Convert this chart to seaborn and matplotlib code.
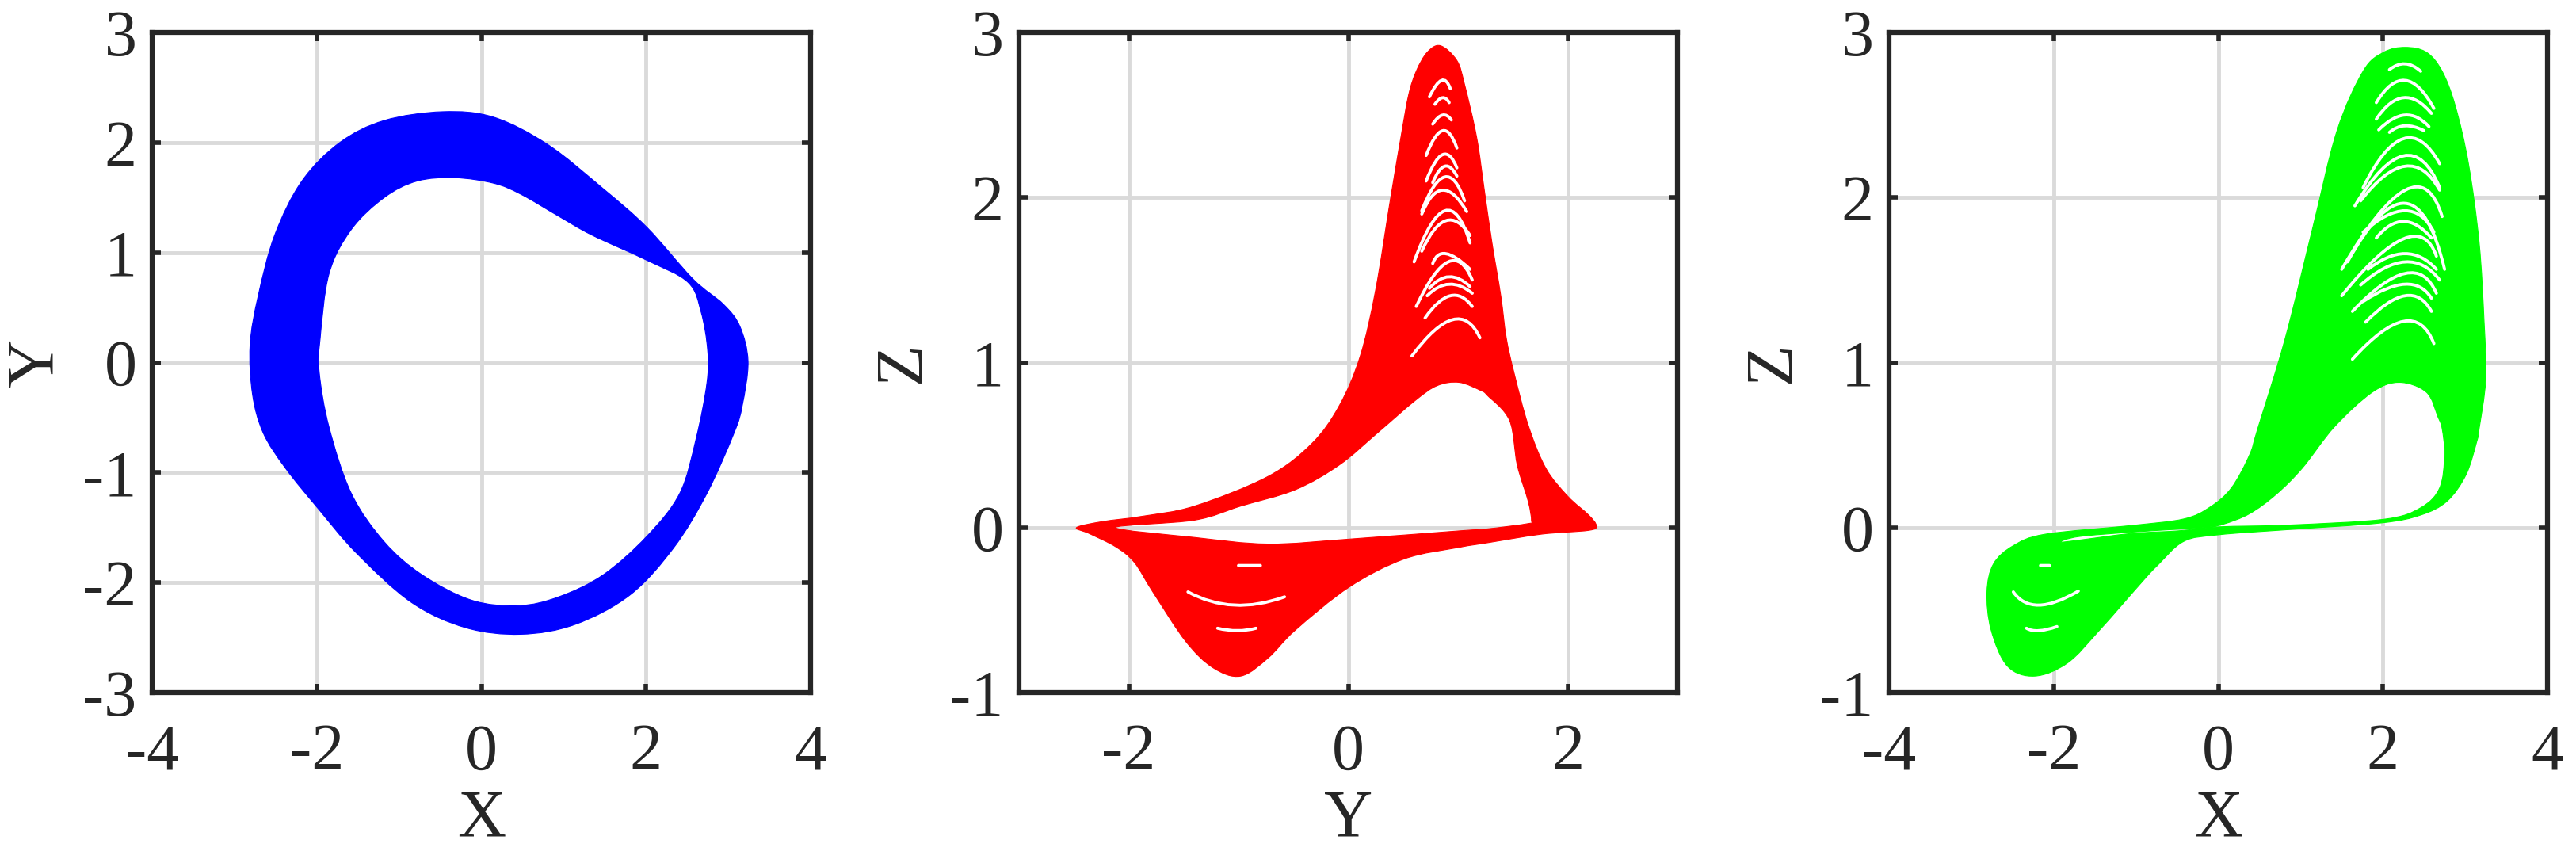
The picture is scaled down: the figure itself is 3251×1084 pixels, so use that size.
import numpy as np
import matplotlib
matplotlib.use("Agg")
import matplotlib.pyplot as plt
from matplotlib.path import Path
from matplotlib.patches import PathPatch
import seaborn as sns

# ---- panel 1 : X-Y band (outer edge / inner edge) ----
xy_outer_x = [-0.47, 0.15, 0.81, 1.48, 2.01, 2.57, 2.94, 3.14, 3.24, 3.17, 3.07, 2.74, 2.34, 1.81, 1.14,
              0.48, -0.19, -0.85, -1.52, -1.98, -2.38, -2.65, -2.78, -2.81, -2.71, -2.51, -2.18, -1.72, -1.18]
xy_outer_y = [2.28, 2.23, 1.98, 1.58, 1.23, 0.76, 0.53, 0.33, 0.01, -0.39, -0.64, -1.19, -1.68, -2.11, -2.38,
              -2.47, -2.41, -2.18, -1.73, -1.33, -0.96, -0.64, -0.29, 0.16, 0.61, 1.16, 1.65, 2.0, 2.2]
xy_inner_x = [-0.32, 0.15, 0.48, 0.94, 1.34, 2.01, 2.51, 2.67, 2.75, 2.74, 2.61, 2.41, 2.01, 1.48, 0.94,
              0.45, -0.12, -0.72, -1.18, -1.58, -1.85, -1.97, -1.96, -1.85, -1.58, -1.18, -0.78]
xy_inner_y = [1.68, 1.63, 1.53, 1.33, 1.16, 0.93, 0.73, 0.46, 0.11, -0.19, -0.69, -1.19, -1.58, -1.93, -2.13,
              -2.21, -2.16, -1.93, -1.63, -1.19, -0.59, -0.09, 0.21, 0.81, 1.21, 1.5, 1.65]

# ---- panel 2 : Y-Z ----
yz_outer_y = [-2.475, -2.24, -1.88, -1.40, -0.73, -0.33, -0.08, 0.11, 0.25, 0.38, 0.48, 0.55, 0.62, 0.72,
              0.84, 0.99, 1.06, 1.17, 1.24, 1.31, 1.39, 1.44, 1.51, 1.64, 1.80, 2.0, 2.19, 2.26, 2.19, 1.76,
              1.27, 1.01, 0.51, 0.01, -0.48, -0.73, -0.98, -1.23, -1.48, -1.78, -1.95, -2.12, -2.36]
yz_outer_z = [0.0, 0.036, 0.068, 0.13, 0.31, 0.51, 0.74, 1.04, 1.44, 1.97, 2.365, 2.62, 2.765, 2.88,
              2.92, 2.83, 2.685, 2.365, 2.045, 1.725, 1.405, 1.15, 0.94, 0.62, 0.36, 0.19, 0.076, 0.012,
              -0.017, -0.04, -0.092, -0.12, -0.19, -0.36, -0.62, -0.79, -0.9, -0.85, -0.69, -0.39, -0.21,
              -0.116, -0.036]
yz_hole_y = [-2.12, -1.40, -0.98, -0.48, -0.08, 0.26, 0.61, 0.81, 1.01, 1.21, 1.27, 1.47, 1.54, 1.64,
             1.67, 1.64, 1.27, 1.01, 0.01, -0.73, -1.40]
yz_hole_z = [0.0, 0.045, 0.13, 0.23, 0.38, 0.57, 0.77, 0.86, 0.88, 0.83, 0.80, 0.65, 0.38, 0.16,
             0.043, 0.024, -0.008, -0.02, -0.07, -0.1, -0.06]
# white gaps: (left end, apex, right end)
yz_gap_y = [[0.74, 0.85, 0.93], [0.79, 0.86, 0.92], [0.77, 0.86, 0.94], [0.71, 0.86, 0.99],
            [0.71, 0.86, 0.99], [0.77, 0.88, 0.99], [0.67, 0.88, 1.06], [0.67, 0.86, 1.08],
            [0.60, 0.88, 1.11], [0.67, 0.89, 1.11], [0.77, 0.89, 1.11], [0.62, 0.91, 1.13],
            [0.74, 0.92, 1.11], [0.72, 0.92, 1.13], [0.70, 0.93, 1.13], [0.58, 0.95, 1.20],
            [-1.46, -1.04, -0.58], [-1.19, -1.01, -0.84], [-1.0, -0.9, -0.8]]
yz_gap_z = [[2.61, 2.71, 2.66], [2.565, 2.605, 2.575], [2.445, 2.50, 2.47], [2.255, 2.405, 2.30],
            [2.10, 2.26, 2.18], [2.09, 2.19, 2.13], [1.92, 2.125, 1.98], [1.90, 2.045, 1.915],
            [1.61, 1.92, 1.725], [1.675, 1.86, 1.77], [1.60, 1.66, 1.565], [1.34, 1.61, 1.50],
            [1.45, 1.52, 1.46], [1.405, 1.475, 1.42], [1.27, 1.405, 1.34], [1.04, 1.26, 1.15],
            [-0.39, -0.47, -0.42], [-0.61, -0.625, -0.61], [-0.23, -0.23, -0.23]]

# ---- panel 3 : X-Z ----
xz_outer_x = [2.27, 2.53, 2.72, 2.88, 3.04, 3.17, 3.23, 3.25, 3.17, 3.14, 3.01, 2.78, 2.46, 1.98, 0.86,
              0.0, -0.42, -0.74, -0.91, -1.44, -1.83, -2.23, -2.56, -2.76, -2.81, -2.73, -2.49, -2.1,
              -1.06, -0.42, -0.10, 0.16, 0.38, 0.48, 0.81, 1.14, 1.44, 1.76, 2.01]
xz_outer_z = [2.91, 2.88, 2.765, 2.555, 2.205, 1.725, 1.245, 0.9, 0.6, 0.52, 0.32, 0.16, 0.076, 0.028,
              -0.012, -0.044, -0.084, -0.23, -0.32, -0.62, -0.82, -0.9, -0.84, -0.62, -0.39, -0.22,
              -0.11, -0.04, 0.012, 0.052, 0.124, 0.24, 0.44, 0.6, 1.14, 1.8, 2.4, 2.765, 2.88]
xz_hole_x = [-1.92, -1.70, -1.06, -0.49, -0.17, 0.06, 0.38, 0.70, 1.02, 1.41, 1.87, 2.2, 2.53, 2.67,
             2.72, 2.75, 2.69, 2.46, 2.01, 0.86, 0.0, -0.49, -1.06, -1.70]
xz_hole_z = [-0.088, -0.055, -0.028, -0.01, 0.0, 0.02, 0.084, 0.2, 0.36, 0.61, 0.82, 0.88, 0.82, 0.67,
             0.6, 0.44, 0.24, 0.12, 0.05, 0.015, 0.004, -0.02, -0.036, -0.077]
xz_gap_x = [[2.08, 2.27, 2.46], [1.92, 2.27, 2.62], [1.92, 2.25, 2.59], [1.95, 2.27, 2.56],
            [2.08, 2.27, 2.50], [1.76, 2.25, 2.69], [1.66, 2.25, 2.69], [1.73, 2.27, 2.69],
            [1.50, 2.27, 2.72], [1.57, 2.27, 2.75], [1.76, 2.27, 2.62], [1.92, 2.25, 2.59],
            [1.50, 2.25, 2.65], [1.82, 2.27, 2.65], [1.73, 2.27, 2.69], [1.63, 2.27, 2.65],
            [1.76, 2.27, 2.59], [1.79, 2.27, 2.59], [1.63, 2.25, 2.62],
            [-2.49, -2.18, -1.70], [-2.33, -2.18, -1.96], [-2.16, -2.10, -2.05]]
xz_gap_z = [[2.775, 2.81, 2.765], [2.575, 2.71, 2.54], [2.475, 2.605, 2.51], [2.41, 2.50, 2.43],
            [2.395, 2.435, 2.405], [2.06, 2.357, 2.205], [1.95, 2.253, 2.06], [1.98, 2.19, 2.045],
            [1.565, 2.045, 1.885], [1.61, 1.965, 1.565], [1.79, 1.92, 1.79], [1.755, 1.855, 1.755],
            [1.405, 1.75, 1.645], [1.565, 1.66, 1.565], [1.47, 1.61, 1.50], [1.31, 1.54, 1.42],
            [1.37, 1.475, 1.39], [1.245, 1.405, 1.31], [1.02, 1.25, 1.115],
            [-0.39, -0.47, -0.385], [-0.61, -0.625, -0.60], [-0.23, -0.23, -0.23]]

sns.set_theme(style="ticks")
plt.rcParams['font.family'] = ['Liberation Serif', 'DejaVu Serif']
plt.rcParams['axes.unicode_minus'] = False

INK = '#262626'


def signed_area(p):
    return 0.5 * np.sum(p[:, 0] * np.roll(p[:, 1], -1) - np.roll(p[:, 0], -1) * p[:, 1])


def smooth_loop(p):
    """closed cubic bezier path through the read points (catmull-rom tangents)"""
    n = len(p)
    verts = [p[0]]
    codes = [Path.MOVETO]
    for i in range(n):
        p0, p1, p2, p3 = p[i - 1], p[i], p[(i + 1) % n], p[(i + 2) % n]
        verts += [p1 + (p2 - p0) / 6.0, p2 - (p3 - p1) / 6.0, p2]
        codes += [Path.CURVE4] * 3
    verts.append(p[0])
    codes.append(Path.CLOSEPOLY)
    return verts, codes


def band(ax, ox, oy, hx, hy, color):
    outer = np.column_stack([ox, oy]).astype(float)
    hole = np.column_stack([hx, hy]).astype(float)
    if np.sign(signed_area(outer)) == np.sign(signed_area(hole)):
        hole = hole[::-1]
    v1, c1 = smooth_loop(outer)
    v2, c2 = smooth_loop(hole)
    path = Path(np.array(v1 + v2), c1 + c2)
    ax.add_patch(PathPatch(path, facecolor=color, edgecolor=color, lw=0.8, zorder=2))


def gaps(ax, gx, gy):
    for px, py in zip(gx, gy):
        p = np.column_stack([px, py]).astype(float)
        ctrl = 2 * p[1] - 0.5 * (p[0] + p[2])
        path = Path([p[0], ctrl, p[2]], [Path.MOVETO, Path.CURVE3, Path.CURVE3])
        ax.add_patch(PathPatch(path, facecolor='none', edgecolor='white', lw=2.8,
                               capstyle='round', zorder=4))


def style(ax, xlim, ylim, xticks, yticks, xlabel, ylabel):
    ax.set_xlim(xlim)
    ax.set_ylim(ylim)
    ax.set_xticks(xticks)
    ax.set_yticks(yticks)
    ax.grid(True, color='#dadada', lw=3.5)
    ax.set_axisbelow(True)
    for s in ax.spines.values():
        s.set_color(INK)
        s.set_linewidth(4.5)
    ax.tick_params(direction='in', length=8, width=4, top=True, right=True,
                   labelsize=59, colors=INK, labelcolor=INK)
    ax.tick_params(axis='x', pad=28)
    ax.tick_params(axis='y', pad=14)
    ax.set_xlabel(xlabel, fontsize=61, color=INK, labelpad=6)
    ax.set_ylabel(ylabel, fontsize=61, color=INK, labelpad=14)


fig = plt.figure(figsize=(32.51, 10.84), dpi=100)
lefts = [192 / 3251, 1286 / 3251, 2384 / 3251]
w, h, b = 831 / 3251, 833 / 1084, 210 / 1084
ax1, ax2, ax3 = [fig.add_axes([l, b, w, h]) for l in lefts]

band(ax1, xy_outer_x, xy_outer_y, xy_inner_x, xy_inner_y, '#0000ff')
style(ax1, (-4, 4), (-3, 3), [-4, -2, 0, 2, 4], [-3, -2, -1, 0, 1, 2, 3], 'X', 'Y')

band(ax2, yz_outer_y, yz_outer_z, yz_hole_y, yz_hole_z, '#ff0000')
gaps(ax2, yz_gap_y, yz_gap_z)
style(ax2, (-3, 3), (-1, 3), [-2, 0, 2], [-1, 0, 1, 2, 3], 'Y', 'Z')

band(ax3, xz_outer_x, xz_outer_z, xz_hole_x, xz_hole_z, '#00ff00')
gaps(ax3, xz_gap_x, xz_gap_z)
style(ax3, (-4, 4), (-1, 3), [-4, -2, 0, 2, 4], [-1, 0, 1, 2, 3], 'X', 'Z')

fig.savefig('out.png', dpi=100)
